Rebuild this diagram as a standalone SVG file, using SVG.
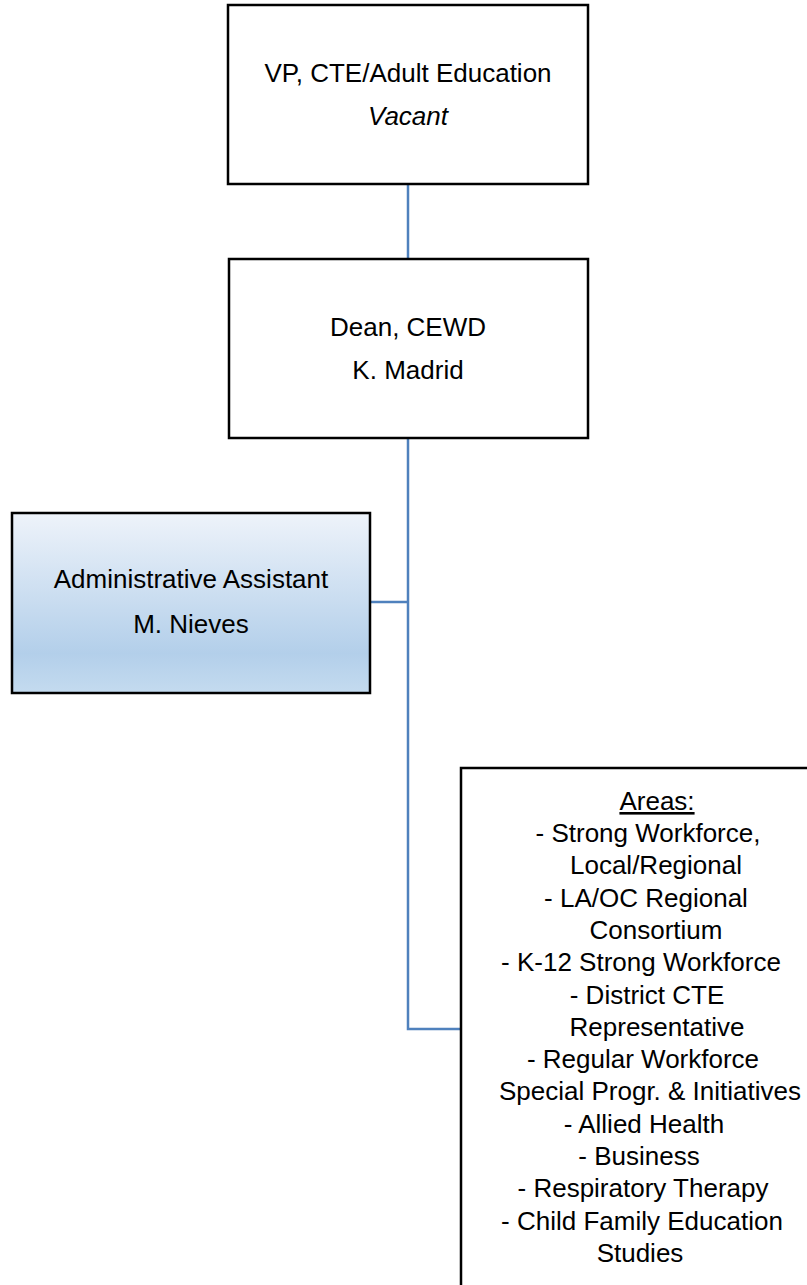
<svg xmlns="http://www.w3.org/2000/svg" width="807" height="1285" viewBox="0 0 807 1285">
<style>
.box{fill:#ffffff;stroke:#000000;stroke-width:2.5}
.t{font-family:"Liberation Sans",Arial,sans-serif;font-size:26px;fill:#000000;text-anchor:middle}
.conn{stroke:#4f81bd;stroke-width:2.5;fill:none}
</style>
<defs>
<linearGradient id="blueGrad" x1="0" y1="0" x2="0" y2="1">
<stop offset="0" stop-color="#eef3fa"/>
<stop offset="0.78" stop-color="#b3cfea"/>
<stop offset="1" stop-color="#c4dbef"/>
</linearGradient>
</defs>
<rect width="807" height="1285" fill="#ffffff"/>
<g id="connectors">
<path class="conn" d="M408,184 V259"/>
<path class="conn" d="M408,438 V1029 H461"/>
<path class="conn" d="M370,602 H408"/>
</g>
<g id="vp">
<rect class="box" x="228" y="5" width="360" height="179"/>
<text class="t" x="408" y="82">VP, CTE/Adult Education</text>
<text class="t" x="408" y="125" font-style="italic">Vacant</text>
</g>
<g id="dean">
<rect class="box" x="229" y="259" width="359" height="179"/>
<text class="t" x="408" y="336">Dean, CEWD</text>
<text class="t" x="408" y="379">K. Madrid</text>
</g>
<g id="admin">
<rect x="12" y="513" width="358" height="180" fill="url(#blueGrad)" stroke="#000000" stroke-width="2.5"/>
<text class="t" x="191" y="588">Administrative Assistant</text>
<text class="t" x="191" y="633">M. Nieves</text>
</g>
<g id="areas">
<rect class="box" x="461" y="768" width="400" height="600"/>
<text class="t" x="657" y="810" text-decoration="underline">Areas:</text>
<text class="t" x="648" y="842">- Strong Workforce,</text>
<text class="t" x="656" y="874">Local/Regional</text>
<text class="t" x="646" y="907">- LA/OC Regional</text>
<text class="t" x="656" y="939">Consortium</text>
<text class="t" x="641" y="971">- K-12 Strong Workforce</text>
<text class="t" x="647" y="1004">- District CTE</text>
<text class="t" x="657" y="1036">Representative</text>
<text class="t" x="643" y="1068">- Regular Workforce</text>
<text class="t" x="650" y="1100">Special Progr. &amp; Initiatives</text>
<text class="t" x="644" y="1133">- Allied Health</text>
<text class="t" x="639" y="1165">- Business</text>
<text class="t" x="643" y="1197">- Respiratory Therapy</text>
<text class="t" x="642" y="1230">- Child Family Education</text>
<text class="t" x="640" y="1262">Studies</text>
</g>
</svg>
